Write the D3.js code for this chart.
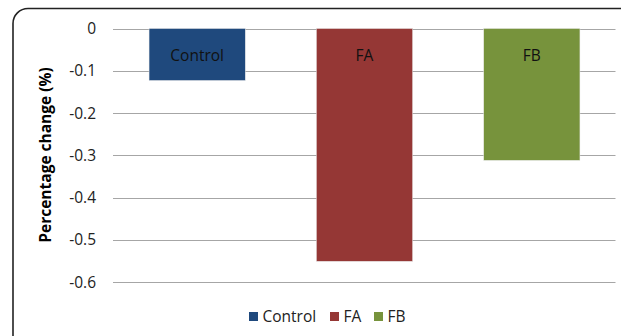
<!DOCTYPE html>
<html><head><meta charset="utf-8">
<script src="https://cdn.jsdelivr.net/npm/d3@7"></script>
<style>body{margin:0;background:#fff}svg{display:block}</style>
</head><body>
<svg id="c" width="621" height="336"></svg>
<script>
const categories = ["Control", "FA", "FB"];
const values = [-0.123, -0.551, -0.312];
const colors = ["#1F497D", "#953735", "#77933C"];
const yTicks = [0, -0.1, -0.2, -0.3, -0.4, -0.5, -0.6];
const yTickLabels = ["0", "-0.1", "-0.2", "-0.3", "-0.4", "-0.5", "-0.6"];
const yTitle = "Percentage change (%)";

const svg = d3.select("#c");
const font = "'Open Sans', sans-serif";

svg.append("rect").attr("x", 13).attr("y", 8.5).attr("width", 640).attr("height", 345)
  .attr("rx", 15).attr("fill", "#fff").attr("stroke", "#222").attr("stroke-width", 1.6);

const x = d3.scaleBand().domain(categories).range([113.5, 615.5]).paddingInner(0.425).paddingOuter(0.2125);
const y = d3.scaleLinear().domain([0, -0.6]).range([28.5, 282]);

const g = svg.append("g");
g.selectAll("line.grid").data(yTicks).enter().append("line")
  .attr("x1", 113).attr("x2", 615.5)
  .attr("y1", d => Math.round(y(d)) + 0.5).attr("y2", d => Math.round(y(d)) + 0.5)
  .attr("stroke", "#A6A6A6").attr("stroke-width", 1);

const yAxis = d3.axisLeft(y).tickValues(yTicks).tickFormat((d, i) => yTickLabels[i]).tickSize(0).tickPadding(0);
const ya = svg.append("g").attr("transform", "translate(96,0)").call(yAxis);
ya.select(".domain").remove();
ya.selectAll("text").attr("font-family", font).attr("font-size", 15.5).attr("fill", "#222").attr("dy", "0.33em");

g.selectAll("rect.bar").data(categories).enter().append("rect")
  .attr("x", d => x(d)).attr("width", x.bandwidth())
  .attr("y", y(0)).attr("height", (d, i) => y(values[i]) - y(0))
  .attr("fill", (d, i) => colors[i]).attr("stroke", "#E8E8E8").attr("stroke-width", 0.5);

g.selectAll("text.lbl").data(categories).enter().append("text")
  .attr("x", d => x(d) + x.bandwidth() / 2).attr("y", 61)
  .attr("text-anchor", "middle").attr("font-family", font).attr("font-size", 15.5).attr("fill", "#111")
  .text(d => d);

svg.append("text").attr("transform", "translate(51,155) rotate(-90)")
  .attr("text-anchor", "middle").attr("font-family", font).attr("font-size", 15.5).attr("font-weight", "bold")
  .text(yTitle);

const legX = [249, 330, 374];
const leg = svg.selectAll("g.leg").data(categories).enter().append("g")
  .attr("transform", (d, i) => `translate(${legX[i]},312)`);
leg.append("rect").attr("width", 9).attr("height", 9).attr("fill", (d, i) => colors[i]);
leg.append("text").attr("x", 13.5).attr("y", 10).attr("font-family", font).attr("font-size", 15.5).attr("fill", "#222").text(d => d);
</script>
</body></html>
